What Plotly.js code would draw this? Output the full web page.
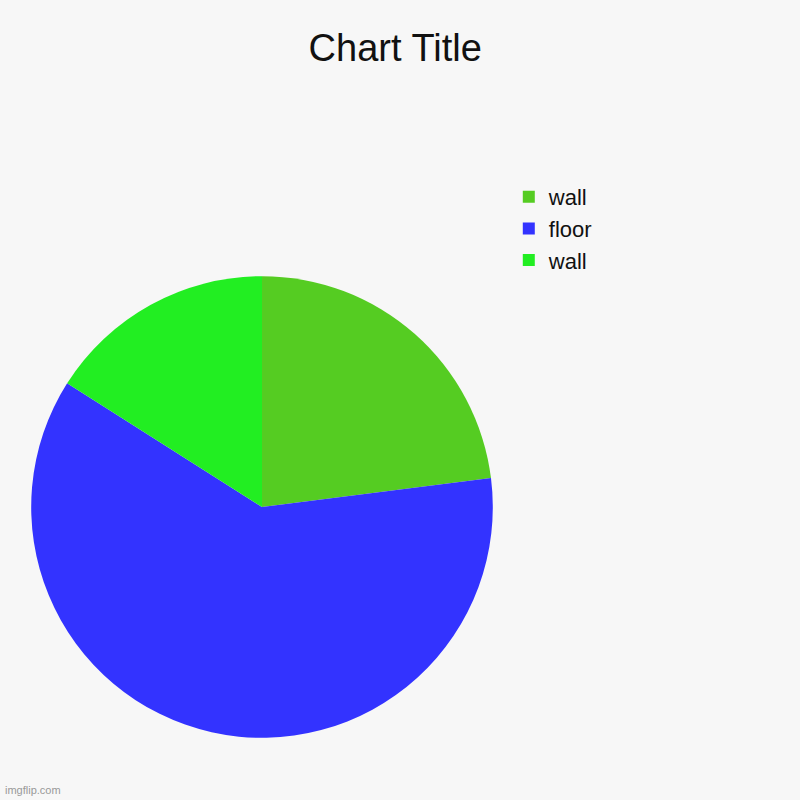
<!DOCTYPE html>
<html>
<head>
<meta charset="utf-8">
<script src="https://cdn.plot.ly/plotly-3.0.1.min.js"></script>
<style>
  html, body { margin: 0; padding: 0; background: #f7f7f7; }
  #chart { width: 800px; height: 800px; }
</style>
</head>
<body>
<div id="chart"></div>
<script>
// slices in drawing order, clockwise from 12 o'clock
// (pie merges equal labels, so the second "wall" carries a trailing space)
var labels = ['wall', 'floor', 'wall '];
var values = [23, 61, 16];
var colors = ['#55cc22', '#3333ff', '#22ee22'];

var trace = {
  type: 'pie',
  labels: labels,
  values: values,
  sort: false,
  direction: 'clockwise',
  rotation: 0,
  textinfo: 'none',
  hoverinfo: 'label+percent',
  marker: { colors: colors, line: { color: '#666666', width: 0 } },
  domain: { x: [0.039, 0.616], y: [0.0775, 0.655] }
};

var layout = {
  width: 800,
  height: 800,
  paper_bgcolor: '#f7f7f7',
  plot_bgcolor: '#f7f7f7',
  margin: { l: 0, r: 0, t: 0, b: 0 },
  font: { family: 'Liberation Sans, Arial, sans-serif', color: '#111111' },
  title: {
    text: 'Chart Title',
    font: { size: 38, color: '#111111' },
    x: 0.494,
    xanchor: 'center',
    y: 0.94,
    yanchor: 'middle'
  },
  showlegend: true,
  legend: {
    x: 0.636,
    y: 0.78,
    xanchor: 'left',
    yanchor: 'top',
    font: { size: 22, color: '#111111' },
    bgcolor: 'rgba(0,0,0,0)'
  },
  annotations: [{
    text: 'imgflip.com',
    xref: 'paper', yref: 'paper',
    x: 0.004, y: 0.003,
    xanchor: 'left', yanchor: 'bottom',
    showarrow: false,
    font: { size: 11, color: '#999999' }
  }]
};

window.addEventListener('load', function () {
  Plotly.newPlot('chart', [trace], layout, { displayModeBar: false });
});
</script>
</body>
</html>
